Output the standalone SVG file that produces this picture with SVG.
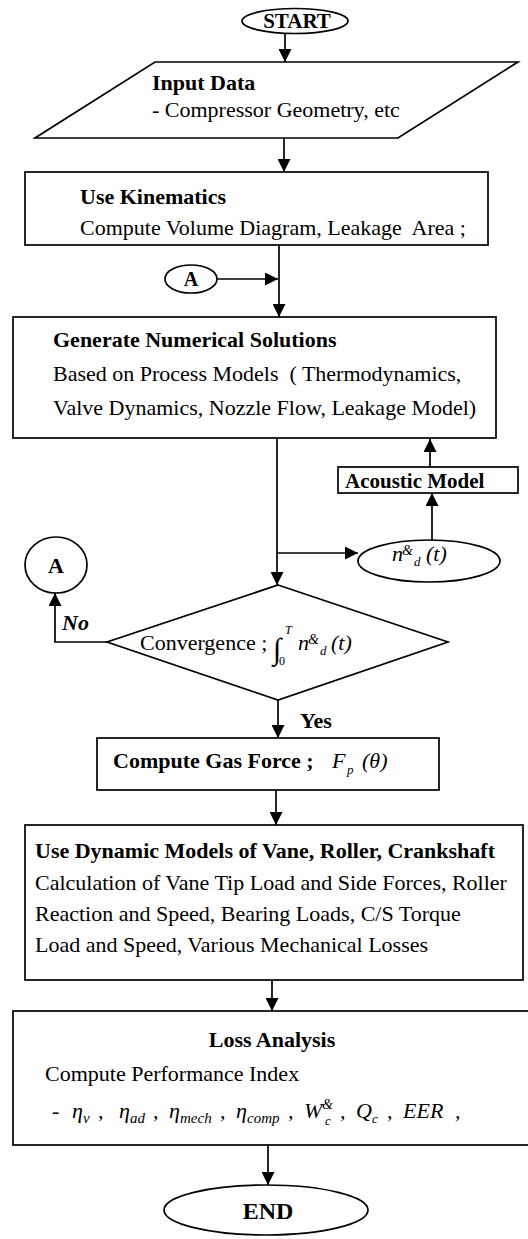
<svg xmlns="http://www.w3.org/2000/svg" width="528" height="1239" viewBox="0 0 528 1239">
  <defs>
    <marker id="ah" viewBox="0 0 13 13" refX="13" refY="6.5" markerWidth="13" markerHeight="13" markerUnits="userSpaceOnUse" orient="auto">
      <path d="M0,0 L13,6.5 L0,13 z" fill="#000"/>
    </marker>
    <style>
      .shape { fill: #fff; stroke: #000; stroke-width: 1.7; }
      .wire { fill: none; stroke: #000; stroke-width: 1.7; marker-end: url(#ah); }
      text { font-family: "Liberation Serif", "Times New Roman", serif; font-size: 22px; fill: #000; }
      .b { font-weight: bold; }
      .i { font-style: italic; }
      .mid { text-anchor: middle; }
      .sub { font-size: 13px; }
      .fsub { font-size: 15px; }
      .dot { font-size: 14px; }
      text.s12 { font-size: 12px; }
      text.s20 { font-size: 20px; }
      text.s21 { font-size: 21px; }
      text.s24 { font-size: 24px; }
      text.s30 { font-size: 30px; }
    </style>
  </defs>

  <rect width="528" height="1239" fill="#fff"/>

  <!-- connectors -->
  <g id="connectors">
    <line class="wire" x1="285" y1="33" x2="285" y2="62"/>
    <line class="wire" x1="284" y1="138" x2="284" y2="172"/>
    <line class="wire" x1="279" y1="245" x2="279" y2="317"/>
    <line class="wire" x1="217" y1="279" x2="278" y2="279"/>
    <line class="wire" x1="277" y1="438" x2="277" y2="585"/>
    <line class="wire" x1="277" y1="553" x2="358" y2="553"/>
    <line class="wire" x1="432" y1="540" x2="432" y2="493"/>
    <line class="wire" x1="430" y1="467" x2="430" y2="439"/>
    <polyline class="wire" points="107,642 55,642 55,593"/>
    <text class="b i" x="62" y="630">No</text>
    <line class="wire" x1="278" y1="700" x2="278" y2="738"/>
    <text class="b" x="300" y="728">Yes</text>
    <line class="wire" x1="276" y1="790" x2="276" y2="825"/>
    <line class="wire" x1="272" y1="980" x2="272" y2="1011"/>
    <line class="wire" x1="268" y1="1145" x2="268" y2="1185"/>
  </g>

  <g id="start">
    <ellipse class="shape" cx="295" cy="21" rx="53" ry="12.5"/>
    <text class="b mid s21" x="297" y="28">START</text>
  </g>

  <g id="input-data">
    <polygon class="shape" points="155,62 518,62 398,138 35,138"/>
    <text class="b" x="152" y="90">Input Data</text>
    <text x="152" y="117">- Compressor Geometry, etc</text>
  </g>

  <g id="kinematics">
    <rect class="shape" x="25" y="172" width="463" height="73"/>
    <text class="b" x="80" y="204">Use Kinematics</text>
    <text x="80" y="235" xml:space="preserve">Compute Volume Diagram, Leakage  Area ;</text>
  </g>

  <g id="connector-a-in">
    <ellipse class="shape" cx="191" cy="279" rx="26" ry="14"/>
    <text class="b mid s20" x="191" y="286">A</text>
  </g>

  <g id="generate">
    <rect class="shape" x="13" y="317" width="483" height="121"/>
    <text class="b" x="53" y="347">Generate Numerical Solutions</text>
    <text x="53" y="381" xml:space="preserve">Based on Process Models  ( Thermodynamics,</text>
    <text x="53" y="415">Valve Dynamics, Nozzle Flow, Leakage Model)</text>
  </g>

  <g id="acoustic">
    <rect class="shape" x="338" y="467" width="180" height="26"/>
    <text class="b s21" x="345" y="488">Acoustic Model</text>
  </g>

  <g id="mass-flow">
    <ellipse class="shape" cx="429" cy="561" rx="71" ry="21"/>
    <text class="i"><tspan x="392" y="561">n</tspan><tspan class="dot" x="402" y="555">&amp;</tspan><tspan class="sub" x="414" y="566">d</tspan><tspan x="426" y="561">(t)</tspan></text>
  </g>

  <g id="convergence">
    <polygon class="shape" points="278,585 448,642 278,700 107,642"/>
    <text x="140" y="650">Convergence ;</text>
    <text class="s30" x="273" y="659">∫</text>
    <text class="i s12" x="285" y="634">T</text>
    <text class="s12" x="279" y="665">0</text>
    <text class="i"><tspan x="298" y="650">n</tspan><tspan class="dot" x="308" y="644">&amp;</tspan><tspan class="sub" x="320" y="655">d</tspan><tspan x="331" y="650">(t)</tspan></text>
  </g>

  <g id="connector-a-out">
    <ellipse class="shape" cx="56" cy="565" rx="31" ry="28"/>
    <text class="b mid" x="56" y="573">A</text>
  </g>

  <g id="gas-force">
    <rect class="shape" x="97" y="738" width="342" height="52"/>
    <text class="b" x="113" y="768">Compute Gas Force ;</text>
    <text class="i"><tspan x="332" y="768">F</tspan><tspan class="sub" x="347" y="774">p</tspan><tspan x="362" y="768">(θ)</tspan></text>
  </g>

  <g id="dynamics">
    <rect class="shape" x="25" y="825" width="498" height="155"/>
    <text class="b" x="35" y="858">Use Dynamic Models of Vane, Roller, Crankshaft</text>
    <text x="35" y="890">Calculation of Vane Tip Load and Side Forces, Roller</text>
    <text x="35" y="921">Reaction and Speed, Bearing Loads, C/S Torque</text>
    <text x="35" y="952">Load and Speed, Various Mechanical Losses</text>
  </g>

  <g id="loss">
    <rect class="shape" x="13" y="1011" width="530" height="134"/>
    <text class="b mid" x="272" y="1047">Loss Analysis</text>
    <text x="45" y="1081">Compute Performance Index</text>
    <text class="i">
      <tspan x="52" y="1118">-</tspan>
      <tspan x="72" y="1118">η</tspan><tspan class="fsub" x="83" y="1123">v</tspan><tspan x="98" y="1118">,</tspan>
      <tspan x="119" y="1118">η</tspan><tspan class="fsub" x="130" y="1123">ad</tspan><tspan x="153" y="1118">,</tspan>
      <tspan x="169" y="1118">η</tspan><tspan class="fsub" x="180" y="1123">mech</tspan><tspan x="220" y="1118">,</tspan>
      <tspan x="236" y="1118">η</tspan><tspan class="fsub" x="247" y="1123">comp</tspan><tspan x="288" y="1118">,</tspan>
      <tspan x="304" y="1118">W</tspan><tspan class="dot" x="322" y="1109">&amp;</tspan><tspan class="sub" x="325" y="1125">c</tspan><tspan x="340" y="1118">,</tspan>
      <tspan x="356" y="1118">Q</tspan><tspan class="sub" x="372" y="1123">c</tspan><tspan x="387" y="1118">,</tspan>
      <tspan x="403" y="1118">EER</tspan><tspan x="455" y="1118">,</tspan>
    </text>
  </g>

  <g id="end">
    <ellipse class="shape" cx="266" cy="1210" rx="102" ry="25"/>
    <text class="b mid s24" x="268" y="1219">END</text>
  </g>
</svg>
